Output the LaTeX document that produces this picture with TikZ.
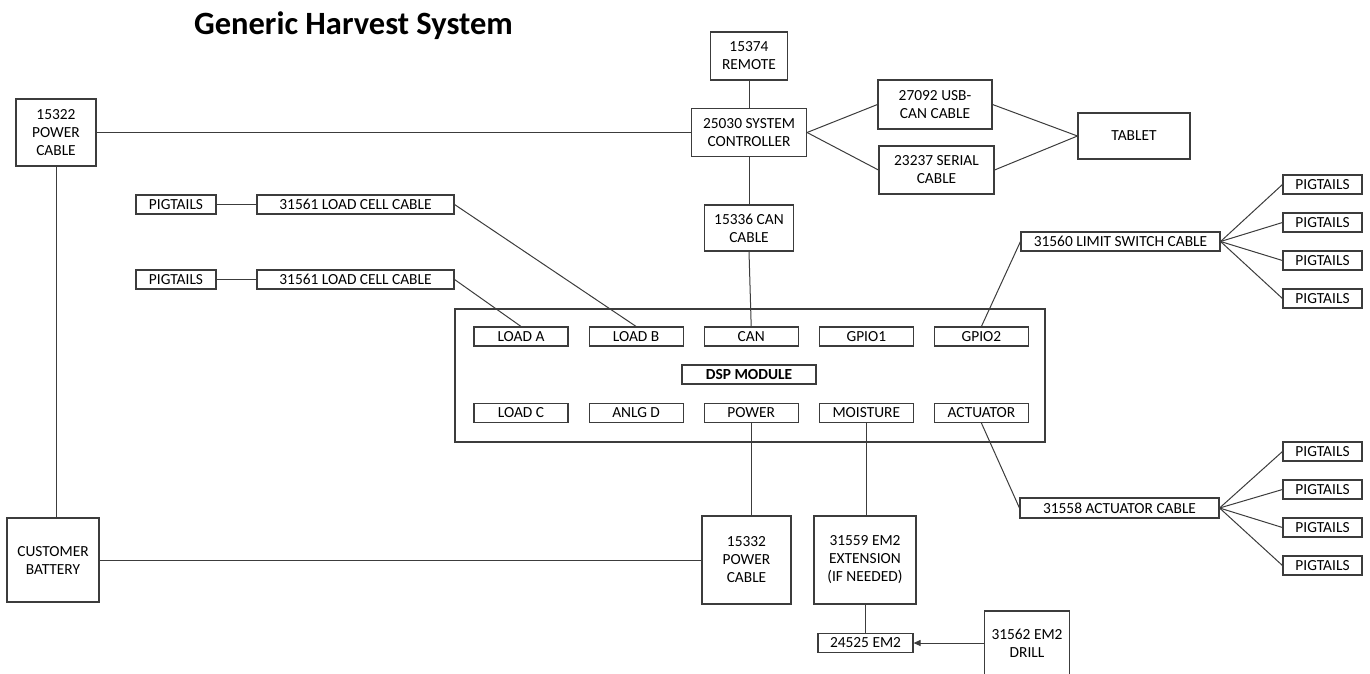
\documentclass[tikz,border=0pt]{standalone}
\usepackage{fontspec}
\setmainfont{Carlito}
\usetikzlibrary{positioning, arrows.meta}
\definecolor{wire}{HTML}{3C3C3C}
\newcommand{\bodyfont}{\fontsize{15.4}{18}\selectfont}

\begin{document}
\begin{tikzpicture}[x=1pt, y=-1pt,
        node distance=20pt,
        bx/.style={draw=wire, line width=1.1pt, inner sep=0pt, align=center, font=\bodyfont},
        prt/.style={bx, minimum width=94pt, minimum height=19pt},
        pg/.style={bx, minimum width=80pt, minimum height=19pt},
        wr/.style={draw=wire, line width=1pt}]
        \useasboundingbox (0,0) rectangle (1370,673);
        \node[anchor=base, font=\fontsize{32.5}{36}\selectfont\bfseries] (title) at (353.5,34) {Generic Harvest System};
        % left side: power and battery
        \node[bx, minimum width=80pt, minimum height=67pt] (pwra) at (56,132.5) {15322\\POWER\\CABLE};
        \node[bx, minimum width=92pt, minimum height=84pt] (batt) at (53,560) {CUSTOMER\\BATTERY};
        % controller column
        \node[bx, minimum width=77pt, minimum height=48pt] (remote) at (749,56) {15374\\REMOTE};
        \node[bx, minimum width=115pt, minimum height=48pt] (ctrl) at (749,132.5) {25030 SYSTEM\\CONTROLLER};
        \node[bx, minimum width=89pt, minimum height=46pt] (cancab) at (749,228) {15336 CAN\\CABLE};
        \node[bx, minimum width=114pt, minimum height=49pt] (usb) at (935,104.5) {27092 USB-\\CAN CABLE};
        \node[bx, minimum width=115pt, minimum height=48pt] (serial) at (936.5,170) {23237 SERIAL\\CABLE};
        \node[bx, minimum width=112pt, minimum height=46pt] (tablet) at (1134,136) {TABLET};
        % load cell cables
        \node[pg] (pigA) at (176,204.5) {PIGTAILS};
        \node[bx, minimum width=197pt, minimum height=19pt] (cellA) at (355.5,204.5) {31561 LOAD CELL CABLE};
        \node[pg] (pigB) at (176,279.5) {PIGTAILS};
        \node[bx, minimum width=197pt, minimum height=19pt] (cellB) at (355.5,279.5) {31561 LOAD CELL CABLE};
        % DSP module
        \node[draw=wire, line width=1.1pt, inner sep=0pt, minimum width=590pt, minimum height=133pt] (dsp) at (750,375.5) {};
        \node[prt] (loada) at (521,336.5) {LOAD A};
        \node[prt, right=of loada] (loadb) {LOAD B};
        \node[prt, right=of loadb] (can) {CAN};
        \node[prt, right=of can] (gpioa) {GPIO1};
        \node[prt, right=of gpioa] (gpiob) {GPIO2};
        \node[prt] (loadc) at (521,413) {LOAD C};
        \node[prt, right=of loadc] (anlg) {ANLG D};
        \node[prt, right=of anlg] (power) {POWER};
        \node[prt, right=of power] (moist) {MOISTURE};
        \node[prt, right=of moist] (actr) {ACTUATOR};
        \node[bx, minimum width=134pt, minimum height=19pt, font=\bodyfont\bfseries] (dsplbl) at (749,374.5) {DSP MODULE};
        % limit switch and actuator cables
        \node[bx, minimum width=199pt, minimum height=19pt] (limit) at (1120.5,241.5) {31560 LIMIT SWITCH CABLE};
        \node[bx, minimum width=199pt, minimum height=20pt] (act) at (1119.5,508) {31558 ACTUATOR CABLE};
        \foreach \i/\y in {1/184.5, 2/222.5, 3/260.5, 4/298.5}
            \node[pg, minimum width=79pt] (ls\i) at (1322.5,\y) {PIGTAILS};
        \foreach \i/\y in {1/451.5, 2/489.5, 3/527.5, 4/565.5}
            \node[pg, minimum width=79pt] (ac\i) at (1322.5,\y) {PIGTAILS};
        % bottom
        \node[bx, minimum width=89pt, minimum height=88pt] (pwrb) at (746.5,560) {15332\\POWER\\CABLE};
        \node[bx, minimum width=102pt, minimum height=88pt] (ext) at (865,560) {31559 EM2\\EXTENSION\\(IF NEEDED)};
        \node[bx, minimum width=95pt, minimum height=19pt] (em2) at (865.5,643) {24525 EM2};
        \node[bx, minimum width=85pt, minimum height=64pt] (drill) at (1027,643) {31562 EM2\\DRILL};
        % connectors
        \draw[wr] (pwra.east) -- (ctrl.west);
        \draw[wr] (pwra.south) -- (pwra.south |- batt.north);
        \draw[wr] (batt.east) -- (pwrb.west);
        \draw[wr] (remote) -- (ctrl);
        \draw[wr] (ctrl) -- (cancab);
        \draw[wr] (cancab.south) -- (can.north);
        \foreach \x in {usb, serial} {
            \draw[wr] (ctrl.east) -- (\x.west);
            \draw[wr] (\x.east) -- (tablet.west);
        }
        \foreach \x/\y in {pigA/cellA, pigB/cellB} \draw[wr] (\x) -- (\y);
        \draw[wr] (cellA.east) -- (loadb.north);
        \draw[wr] (cellB.east) -- (loada.north);
        \draw[wr] (gpiob.north) -- (limit.west);
        \draw[wr] (actr.south) -- (act.west);
        \foreach \i in {1,...,4} {
            \draw[wr] (limit.east) -- (ls\i.west);
            \draw[wr] (act.east) -- (ac\i.west);
        }
        \draw[wr] (power.south) -- (power.south |- pwrb.north);
        \draw[wr] (moist.south) -- (moist.south |- ext.north);
        \draw[wr] (ext.south |- em2.north) -- (ext.south);
        \draw[wr, -{Triangle[length=7pt, width=6pt]}] (drill.west) -- (em2.east);
    \end{tikzpicture}
\end{document}
